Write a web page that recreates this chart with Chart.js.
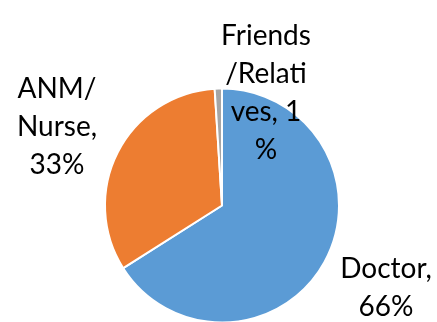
<!DOCTYPE html>
<html>
<head>
<meta charset="utf-8">
<script src="https://cdn.jsdelivr.net/npm/chart.js@4"></script>
<style>
  html, body { margin: 0; padding: 0; background: #fff; overflow: hidden; }
  #wrap { position: relative; width: 437px; height: 324px; }
</style>
</head>
<body>
<div id="wrap"><canvas id="pieChart"></canvas></div>
<script>
const categories = ['Doctor', 'ANM/ Nurse', 'Friends /Relatives'];
const shares = [66, 33, 1];
const sliceColors = ['#5B9BD5', '#ED7D31', '#A5A5A5'];

// wrapped label lines, the way they are broken on the chart
const labelLines = [
  ['Doctor,', '66%'],
  ['ANM/', 'Nurse,', '33%'],
  ['Friends', '/Relati', 'ves, 1', '%']
];

// label block centres, relative to the pie centre
const labelOffsets = [
  { dx: 164, dy: 82 },
  { dx: -165, dy: -79 },
  { dx: 44, dy: -113 }
];

const outsideLabels = {
  id: 'outsideLabels',
  afterDraw(chart) {
    const ctx = chart.ctx;
    const arc = chart.getDatasetMeta(0).data[0];
    const lineH = 38;
    ctx.save();
    ctx.fillStyle = '#000';
    ctx.font = '28px Lato';
    ctx.textAlign = 'center';
    ctx.textBaseline = 'middle';
    labelLines.forEach((lines, i) => {
      const cx = arc.x + labelOffsets[i].dx;
      const cy = arc.y + labelOffsets[i].dy;
      const top = cy - (lines.length - 1) * lineH / 2;
      lines.forEach((t, j) => ctx.fillText(t, cx, top + j * lineH));
    });
    ctx.restore();
  }
};

new Chart(document.getElementById('pieChart'), {
  type: 'pie',
  data: {
    labels: categories,
    datasets: [{
      data: shares,
      backgroundColor: sliceColors,
      borderColor: '#fff',
      borderWidth: 2
    }]
  },
  options: {
    responsive: true,
    maintainAspectRatio: false,
    animation: false,
    layout: { padding: { top: 87, bottom: 0, left: 104, right: 97 } },
    plugins: {
      legend: { display: false },
      tooltip: { enabled: false }
    }
  },
  plugins: [outsideLabels]
});
</script>
</body>
</html>
